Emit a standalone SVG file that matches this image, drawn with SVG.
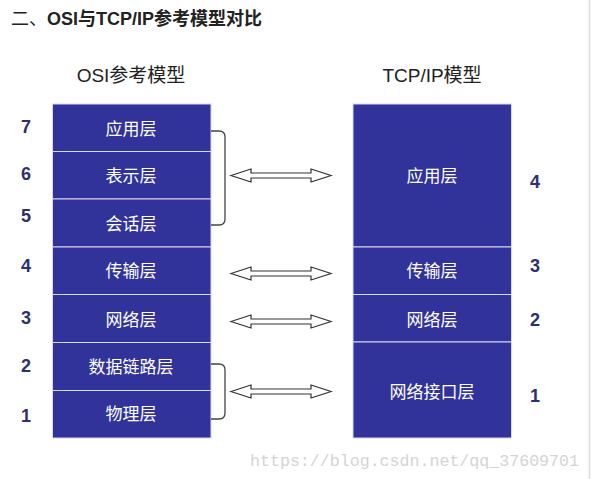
<svg xmlns="http://www.w3.org/2000/svg" width="591" height="479" viewBox="0 0 591 479">
<style>
.cjk{font-family:"Liberation Sans","Noto Sans CJK SC",sans-serif}
.layer{fill:#31339a;stroke:#d8d8ee;stroke-width:1}
.lbl{font-family:"Liberation Sans","Noto Sans CJK SC",sans-serif;font-size:17px;fill:#ffffff;text-anchor:middle}
.num{font-family:"Liberation Sans",sans-serif;font-size:18px;font-weight:bold;fill:#2e2f72;text-anchor:middle}
.arrow{fill:#ffffff;stroke:#333333;stroke-width:1.2;stroke-linejoin:miter}
.brace{fill:none;stroke:#444444;stroke-width:1.3}
</style>
<rect width="591" height="479" fill="#ffffff"/>
<line x1="589.5" y1="0" x2="589.5" y2="479" stroke="#dcdcdc" stroke-width="1.5"/>
<text x="11" y="25" class="cjk" font-size="18" fill="#222222">二、<tspan font-weight="bold">OSI与TCP/IP参考模型对比</tspan></text>
<text x="131" y="82" class="cjk" font-size="19" fill="#222222" text-anchor="middle">OSI参考模型</text>
<text x="432" y="82" class="cjk" font-size="19" fill="#222222" text-anchor="middle">TCP/IP模型</text>

<g id="osi-7"><rect class="layer" x="52.5" y="104" width="158.5" height="47.5"/><text class="lbl" x="131" y="135">应用层</text><text class="num" x="26" y="133">7</text></g>
<g id="osi-6"><rect class="layer" x="52.5" y="151.5" width="158.5" height="47.5"/><text class="lbl" x="131" y="182">表示层</text><text class="num" x="26" y="180">6</text></g>
<g id="osi-5"><rect class="layer" x="52.5" y="199" width="158.5" height="48"/><text class="lbl" x="131" y="230">会话层</text><text class="num" x="26" y="222">5</text></g>
<g id="osi-4"><rect class="layer" x="52.5" y="247" width="158.5" height="47.5"/><text class="lbl" x="131" y="277">传输层</text><text class="num" x="26" y="272">4</text></g>
<g id="osi-3"><rect class="layer" x="52.5" y="294.5" width="158.5" height="48"/><text class="lbl" x="131" y="326">网络层</text><text class="num" x="26" y="324">3</text></g>
<g id="osi-2"><rect class="layer" x="52.5" y="342.5" width="158.5" height="48"/><text class="lbl" x="131" y="373">数据链路层</text><text class="num" x="26" y="372">2</text></g>
<g id="osi-1"><rect class="layer" x="52.5" y="390.5" width="158.5" height="47.5"/><text class="lbl" x="131" y="420">物理层</text><text class="num" x="26" y="422">1</text></g>

<g id="tcp-4"><rect class="layer" x="353" y="104" width="158.5" height="143"/><text class="lbl" x="432" y="182">应用层</text><text class="num" x="535" y="188">4</text></g>
<g id="tcp-3"><rect class="layer" x="353" y="247" width="158.5" height="47.5"/><text class="lbl" x="432" y="277">传输层</text><text class="num" x="535" y="272">3</text></g>
<g id="tcp-2"><rect class="layer" x="353" y="294.5" width="158.5" height="47.5"/><text class="lbl" x="432" y="326">网络层</text><text class="num" x="535" y="326">2</text></g>
<g id="tcp-1"><rect class="layer" x="353" y="342" width="158.5" height="96"/><text class="lbl" x="432" y="398">网络接口层</text><text class="num" x="535" y="402">1</text></g>

<g id="connectors">
<path class="brace" d="M211,131 H219 Q225,131 225,137 V219 Q225,225 219,225 H211"/>
<path class="brace" d="M211,364 H219 Q225,364 225,370 V413 Q225,419 219,419 H211"/>
<path class="arrow" d="M231,175.5 L251,169 L251,173 L311,173 L311,169 L331,175.5 L311,182 L311,178 L251,178 L251,182 Z"/>
<path class="arrow" d="M231,273.5 L251,267 L251,271 L311,271 L311,267 L331,273.5 L311,280 L311,276 L251,276 L251,280 Z"/>
<path class="arrow" d="M231,321.5 L251,315 L251,319 L311,319 L311,315 L331,321.5 L311,328 L311,324 L251,324 L251,328 Z"/>
<path class="arrow" d="M231,391.5 L251,385 L251,389 L311,389 L311,385 L331,391.5 L311,398 L311,394 L251,394 L251,398 Z"/>
</g>
<text x="250" y="466" font-family="Liberation Mono,monospace" font-size="17" fill="#d4d4d4" textLength="329" lengthAdjust="spacingAndGlyphs">https://blog.csdn.net/qq_37609701</text>
</svg>
